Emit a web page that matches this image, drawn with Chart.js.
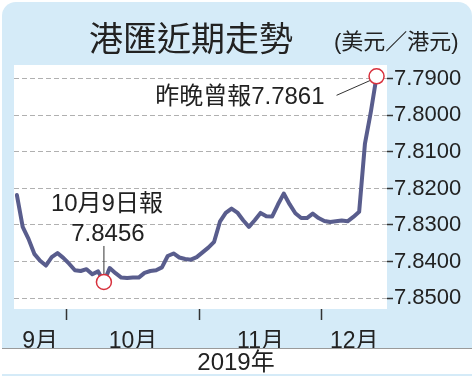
<!DOCTYPE html>
<html>
<head>
<meta charset="utf-8">
<script src="https://cdn.jsdelivr.net/npm/chart.js@4/dist/chart.umd.min.js"></script>
<style>
  html, body { margin: 0; padding: 0; background: #fff; }
</style>
</head>
<body>
<canvas id="fxChart" width="474" height="376"></canvas>
<script>
// USD/HKD, one value per weekday, 18 Sep - 13 Dec 2019
const rates = [
  7.8218, 7.8305, 7.8338, 7.8379, 7.8398, 7.8411, 7.8388, 7.8377, 7.8390,
  7.8406, 7.8424, 7.8426, 7.8421, 7.8435, 7.8427, 7.8456, 7.8418, 7.8432,
  7.8444, 7.8445, 7.8444, 7.8444, 7.8431, 7.8426, 7.8424, 7.8416, 7.8385,
  7.8378, 7.8389, 7.8393, 7.8395, 7.8388, 7.8375, 7.8362, 7.8346, 7.8291,
  7.8267, 7.8255, 7.8266, 7.8287, 7.8305, 7.8287, 7.8267, 7.8276, 7.8277,
  7.8244, 7.8214, 7.8243, 7.8268, 7.8281, 7.8281, 7.8269, 7.8281, 7.8289,
  7.8292, 7.8290, 7.8288, 7.8290, 7.8278, 7.8264, 7.8077, 7.7992, 7.7893
];

// month boundaries (between weekday indexes) and names
const monthBreaks = [8.5, 31.5, 52.5];
const monthLabels = ['9月', '10月', '11月', '12月'];
const yTicks = [7.79, 7.80, 7.81, 7.82, 7.83, 7.84, 7.85];

const xMin = -0.5;
const xMax = 63.8;

// callouts
const lastIdx = rates.length - 1;
const lastText = '昨晚曾報7.7861';
const octIdx = 15;
const octText1 = '10月9日報';
const octText2 = '7.8456';
const yearText = '2019年';

// label in the middle of each visible month span
const edges = [xMin, ...monthBreaks, xMax];
const monthCenters = monthLabels.map((m, i) => (edges[i] + edges[i + 1]) / 2);

const FONT = '"Liberation Sans", "Noto Sans CJK TC", sans-serif';
const CJK = '"Noto Sans CJK TC", sans-serif';

//draws the blue panel, white plot area and year strip
const panelPlugin = {
  id: 'panel',
  beforeDraw(chart) {
    const ctx = chart.ctx;
    const a = chart.chartArea;
    ctx.save();
    ctx.fillStyle = '#ffffff';
    ctx.fillRect(0, 0, chart.width, chart.height);
    ctx.fillStyle = '#d5ebf8';
    ctx.beginPath();
    ctx.roundRect(2, 2, chart.width - 4, chart.height + 20, 14);
    ctx.fill();
    ctx.fillStyle = '#ffffff';
    ctx.fillRect(a.left, a.top, a.right - a.left, a.bottom - a.top);
    // year strip
    ctx.fillRect(2, 348, chart.width - 4, 26);
    ctx.strokeStyle = '#9a9a9a';
    ctx.lineWidth = 1;
    ctx.beginPath();
    ctx.moveTo(2, 348.5);
    ctx.lineTo(chart.width - 2, 348.5);
    ctx.stroke();
    ctx.restore();
  },
  afterDraw(chart) {
    const ctx = chart.ctx;
    ctx.save();
    ctx.fillStyle = '#222';
    ctx.textBaseline = 'middle';
    ctx.textAlign = 'left';
    ctx.font = '34px ' + CJK;
    ctx.fillText('港匯近期走勢', 89, 38);
    ctx.font = '22px ' + FONT;
    ctx.fillText('(美元／港元)', 334, 43);
    ctx.textAlign = 'center';
    ctx.font = '24px ' + FONT;
    ctx.fillText(yearText, 236, 363);
    ctx.restore();
  }
};

//circles and callout texts
const calloutPlugin = {
  id: 'callouts',
  afterDatasetsDraw(chart) {
    const ctx = chart.ctx;
    const xs = chart.scales.x;
    const ys = chart.scales.y;
    const lx = xs.getPixelForValue(lastIdx);
    const ly = ys.getPixelForValue(rates[lastIdx]);
    const ox = xs.getPixelForValue(octIdx);
    const oy = ys.getPixelForValue(rates[octIdx]);

    ctx.save();
    ctx.strokeStyle = '#333';
    ctx.lineWidth = 1;
    ctx.beginPath();
    ctx.moveTo(lx - 40, ly + 19);
    ctx.lineTo(lx - 6, ly + 4);
    ctx.moveTo(ox, oy - 36);
    ctx.lineTo(ox, oy - 8);
    ctx.stroke();

    ctx.fillStyle = '#ffffff';
    ctx.strokeStyle = '#d7303c';
    ctx.lineWidth = 1.5;
    [[lx, ly], [ox, oy]].forEach(p => {
      ctx.beginPath();
      ctx.arc(p[0], p[1], 7.5, 0, Math.PI * 2);
      ctx.fill();
      ctx.stroke();
    });

    ctx.fillStyle = '#222';
    ctx.font = '24px ' + FONT;
    ctx.textBaseline = 'middle';
    ctx.textAlign = 'right';
    ctx.fillText(lastText, lx - 52, ly + 21);
    ctx.textAlign = 'center';
    ctx.fillText(octText1, ox + 3, oy - 78);
    ctx.fillText(octText2, ox + 4, oy - 48);
    ctx.restore();
  }
};

const ctx = document.getElementById('fxChart').getContext('2d');

new Chart(ctx, {
  type: 'line',
  data: {
    datasets: [{
      data: rates.map((v, i) => ({ x: i, y: v })),
      borderColor: '#595d8d',
      borderWidth: 4,
      borderJoinStyle: 'round',
      borderCapStyle: 'round',
      pointRadius: 0,
      tension: 0,
      fill: false
    }]
  },
  options: {
    responsive: false,
    animation: false,
    devicePixelRatio: 1,
    layout: { padding: { left: 14, top: 65, right: 0, bottom: 28 } },
    plugins: {
      legend: { display: false },
      tooltip: { enabled: false }
    },
    scales: {
      x: {
        type: 'linear',
        position: 'bottom',
        min: xMin,
        max: xMax,
        afterBuildTicks: s => { s.ticks = monthBreaks.map(v => ({ value: v })); },
        afterFit: s => { s.height = 11; },
        ticks: { display: false },
        grid: {
          drawOnChartArea: false,
          drawTicks: true,
          tickLength: 11,
          tickColor: '#333',
          tickWidth: 1.5
        },
        border: { display: false }
      },
      x2: {
        type: 'linear',
        position: 'bottom',
        min: xMin,
        max: xMax,
        afterBuildTicks: s => { s.ticks = monthCenters.map(v => ({ value: v })); },
        afterFit: s => { s.height = 28; },
        ticks: {
          autoSkip: false,
          maxRotation: 0,
          padding: 0,
          color: '#222',
          font: { family: FONT, size: 23 },
          callback: (v, i) => monthLabels[i]
        },
        grid: { display: false },
        border: { display: false }
      },
      y: {
        type: 'linear',
        position: 'right',
        reverse: true,
        min: 7.7862,
        max: 7.853,
        afterBuildTicks: s => { s.ticks = yTicks.map(v => ({ value: v })); },
        afterFit: s => { s.width = 87; },
        ticks: {
          padding: 1,
          color: '#222',
          font: { family: FONT, size: 22 },
          callback: v => v.toFixed(4)
        },
        grid: {
          color: '#b0b0b0',
          lineWidth: 1,
          tickColor: '#333',
          tickLength: 6,
          tickWidth: 1.5
        },
        border: { display: false, dash: [5, 3] }
      }
    }
  },
  plugins: [panelPlugin, calloutPlugin]
});
</script>
</body>
</html>
